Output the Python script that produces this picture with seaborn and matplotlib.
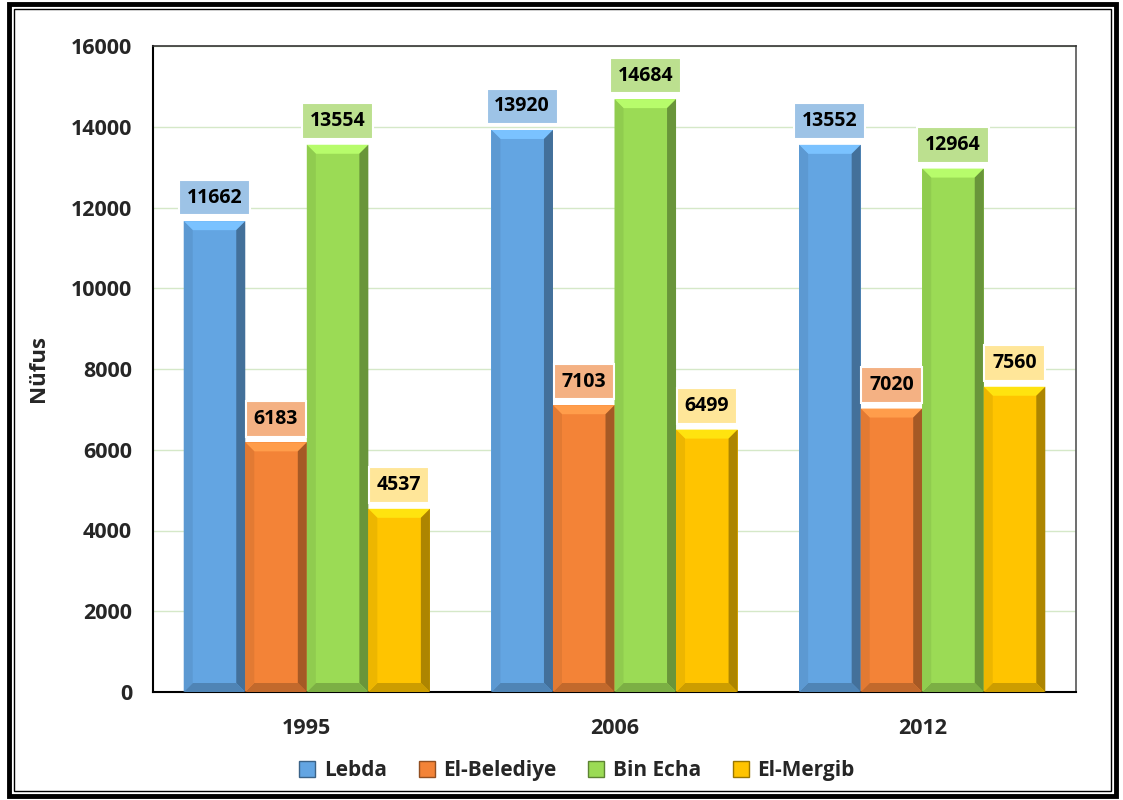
import numpy as np
import pandas as pd
import seaborn as sns
import matplotlib.pyplot as plt
from matplotlib.patches import Rectangle, Polygon
from matplotlib.lines import Line2D
import matplotlib.colors as mcolors

# data
years = ["1995", "2006", "2012"]
places = ["Lebda", "El-Belediye", "Bin Echa", "El-Mergib"]
lebda = [11662, 13920, 13552]
belediye = [6183, 7103, 7020]
bin_echa = [13554, 14684, 12964]
mergib = [4537, 6499, 7560]

bar_colors = ["#63A5E2", "#F38337", "#9BDB55", "#FFC400"]
box_colors = ["#9DC3E6", "#F4B183", "#BCE08F", "#FFE699"]

df = pd.DataFrame({
    "year": years * 4,
    "place": np.repeat(places, 3),
    "value": lebda + belediye + bin_echa + mergib,
})

sns.set_style("white")
plt.rcParams["font.family"] = ["Open Sans", "DejaVu Sans"]
plt.rcParams["font.weight"] = "bold"
plt.rcParams["axes.labelweight"] = "bold"

fig = plt.figure(figsize=(11.23, 8), dpi=100)
ax = fig.add_axes([0.1362, 0.135, 0.822, 0.8075])

sns.barplot(data=df, x="year", y="value", hue="place", hue_order=places,
            palette=bar_colors, width=0.8, saturation=1, gap=0.0,
            linewidth=0, legend=False, ax=ax)

ax.set_ylim(0, 16000)
ax.set_xlim(-0.5, 2.5)
ax.set_yticks(np.arange(0, 16001, 2000))
ax.set_xticks(range(3), years, fontweight="bold")
ax.grid(axis="y", color="#D5E8C8", linewidth=1)
ax.set_axisbelow(True)
for s in ax.spines.values():
    s.set_visible(True)
    s.set_color("black")
ax.spines["left"].set_linewidth(1.5)
ax.spines["bottom"].set_linewidth(1.5)
ax.spines["top"].set_linewidth(1.2)
ax.spines["right"].set_linewidth(1.2)
ax.spines["top"].set_color("#333333")
ax.spines["right"].set_color("#555555")

ax.tick_params(axis="y", direction="out", length=7, width=1.5, labelsize=15.5, pad=8)
ax.tick_params(axis="x", which="major", length=0, labelsize=15.5, pad=19)
ax.set_xticks([0.5, 1.5], minor=True)
ax.tick_params(axis="x", which="minor", direction="out", length=7, width=1.5)
for lab in ax.get_xticklabels() + ax.get_yticklabels():
    lab.set_fontweight("bold")
ax.set_xlabel("")
ax.set_ylabel("Nüfus", fontsize=16, fontweight="bold", labelpad=16)

# bevel look + value boxes
fig.canvas.draw()
bbox = ax.get_window_extent()
dx = 3.0 / bbox.width * 9
dy = 16000 / bbox.height * 9
for i, cont in enumerate(ax.containers):
    base = mcolors.to_rgb(bar_colors[i])
    light = tuple(min(1, c * 1.08 + 0.06) for c in base)
    dark = tuple(c * 0.68 for c in base)
    mid = tuple(c * 0.8 for c in base)
    side = tuple(c * 0.93 for c in base)
    for bar in cont:
        x0, y0 = bar.get_x(), bar.get_y()
        w, h = bar.get_width(), bar.get_height()
        x1, y1 = x0 + w, y0 + h
        ax.add_patch(Polygon([(x0, y1), (x1, y1), (x1 - dx, y1 - dy), (x0 + dx, y1 - dy)],
                             closed=True, color=light, lw=0, zorder=3))
        ax.add_patch(Polygon([(x1, y1), (x1, y0), (x1 - dx, y0 + dy), (x1 - dx, y1 - dy)],
                             closed=True, color=dark, lw=0, zorder=3))
        ax.add_patch(Polygon([(x0, y0), (x1, y0), (x1 - dx, y0 + dy), (x0 + dx, y0 + dy)],
                             closed=True, color=mid, lw=0, zorder=3))
        ax.add_patch(Polygon([(x0, y0), (x0, y1), (x0 + dx, y1 - dy), (x0 + dx, y0 + dy)],
                             closed=True, color=side, lw=0, zorder=3))
        ax.annotate(f"{int(h)}", (x0 + w / 2, y1), xytext=(0, 17),
                    textcoords="offset points", ha="center", va="center",
                    fontsize=14, fontweight="bold", color="black", zorder=5,
                    bbox=dict(boxstyle="square,pad=0.4", fc=box_colors[i], ec="white", lw=1.5))

# legend
handles = [Line2D([0], [0], marker="s", linestyle="", markersize=12,
                  markerfacecolor=c, markeredgecolor=tuple(v * 0.6 for v in mcolors.to_rgb(c)))
           for c in bar_colors]
fig.legend(handles, places, loc="center", bbox_to_anchor=(0.508, 0.037), ncol=4,
           frameon=False, prop={"weight": "bold", "size": 15}, handletextpad=-0.2,
           columnspacing=0.9)

# double frame around the figure
fig.patches.append(Rectangle((0.008, 0.005), 0.986, 0.99, transform=fig.transFigure,
                             fill=False, ec="black", lw=3.5))
fig.patches.append(Rectangle((0.0125, 0.0115), 0.977, 0.977, transform=fig.transFigure,
                             fill=False, ec="black", lw=1.0))

fig.savefig("out.png", dpi=100)
